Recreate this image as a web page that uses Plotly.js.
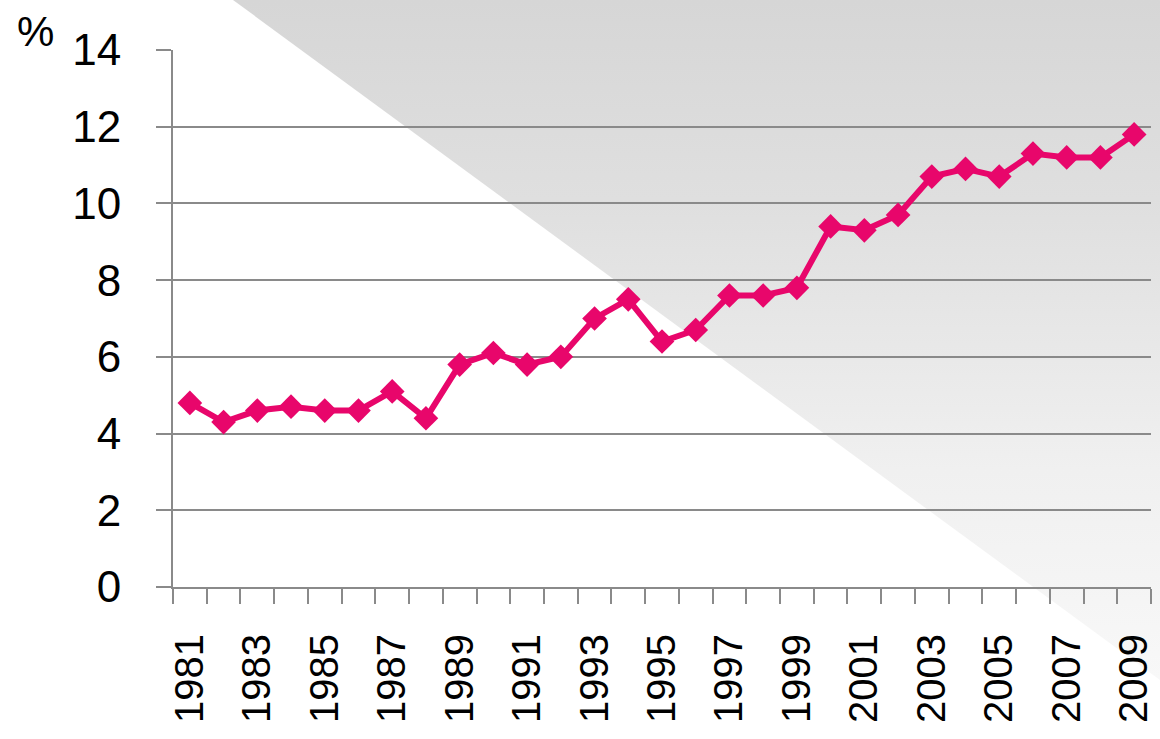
<!DOCTYPE html>
<html>
<head>
<meta charset="utf-8">
<script src="https://cdn.plot.ly/plotly-3.0.1.min.js"></script>
<style>
  html, body { margin: 0; padding: 0; background: #ffffff; }
  #wrap { position: relative; width: 1160px; height: 739px; overflow: hidden; }
  #bg { position: absolute; left: 0; top: 0; width: 1160px; height: 739px;
        background: linear-gradient(to bottom, #d6d6d6 0px, #e0e0e0 220px, #f0f0f0 470px, #f8f8f8 680px, #ffffff 739px);
        clip-path: polygon(233px 0px, 1160px 0px, 1160px 680px); }
  #chart { position: absolute; left: 0; top: 0; width: 1160px; height: 739px; }
</style>
</head>
<body>
<div id="wrap"><div id="bg"></div><div id="chart"></div></div>
<script>
const years = [1981,1982,1983,1984,1985,1986,1987,1988,1989,1990,1991,1992,1993,1994,1995,1996,1997,1998,1999,2000,2001,2002,2003,2004,2005,2006,2007,2008,2009];
const values = [4.8,4.3,4.6,4.7,4.6,4.6,5.1,4.4,5.8,6.1,5.8,6.0,7.0,7.5,6.4,6.7,7.6,7.6,7.8,9.4,9.3,9.7,10.7,10.9,10.7,11.3,11.2,11.2,11.8];
const labelYears = [1981,1983,1985,1987,1989,1991,1993,1995,1997,1999,2001,2003,2005,2007,2009];
const yTicks = [0,2,4,6,8,10,12,14];
const unitLabel = '%';

const FONT = '"Liberation Sans", Arial, sans-serif';
const GRID = '#8a8a8a';
const PINK = '#e8066b';

const trace = {
  x: years, y: values, type: 'scatter', mode: 'lines+markers',
  line: { color: PINK, width: 6 },
  marker: { symbol: 'diamond', size: 19, color: PINK },
  hoverinfo: 'x+y'
};

const layout = {
  width: 1160, height: 739,
  margin: { l: 173, r: 9, t: 50, b: 152 },
  paper_bgcolor: 'rgba(0,0,0,0)', plot_bgcolor: 'rgba(0,0,0,0)',
  showlegend: false,
  font: { family: FONT, size: 42, color: '#000000' },
  xaxis: {
    type: 'linear', range: [1980.5, 2009.5],
    tickmode: 'array', tickvals: labelYears, ticktext: labelYears.map(String),
    ticks: 'outside', ticklen: 15, tickcolor: 'rgba(0,0,0,0)', tickwidth: 2,
    tickangle: -90, ticklabelstandoff: 14,
    tickfont: { family: FONT, size: 40, color: '#000' },
    minor: { ticks: 'outside', ticklen: 15, tickcolor: GRID, tickwidth: 2, tick0: 1980.5, dtick: 1, showgrid: false },
    showgrid: false, zeroline: false,
    showline: true, linecolor: GRID, linewidth: 2
  },
  yaxis: {
    range: [0, 14], tickmode: 'array', tickvals: yTicks,
    ticks: 'outside', ticklen: 15, tickcolor: GRID, tickwidth: 2,
    ticklabelstandoff: 26,
    tickfont: { family: FONT, size: 44, color: '#000' },
    showgrid: true, gridcolor: GRID, gridwidth: 2,
    zeroline: false, showline: true, linecolor: GRID, linewidth: 2
  },
  annotations: [{
    text: unitLabel, xref: 'paper', yref: 'paper',
    x: -0.141, y: 1.034, xanchor: 'center', yanchor: 'middle',
    showarrow: false, font: { family: FONT, size: 42, color: '#000' }
  }]
};

Plotly.newPlot('chart', [trace], layout, { displayModeBar: false, staticPlot: true });
</script>
</body>
</html>
